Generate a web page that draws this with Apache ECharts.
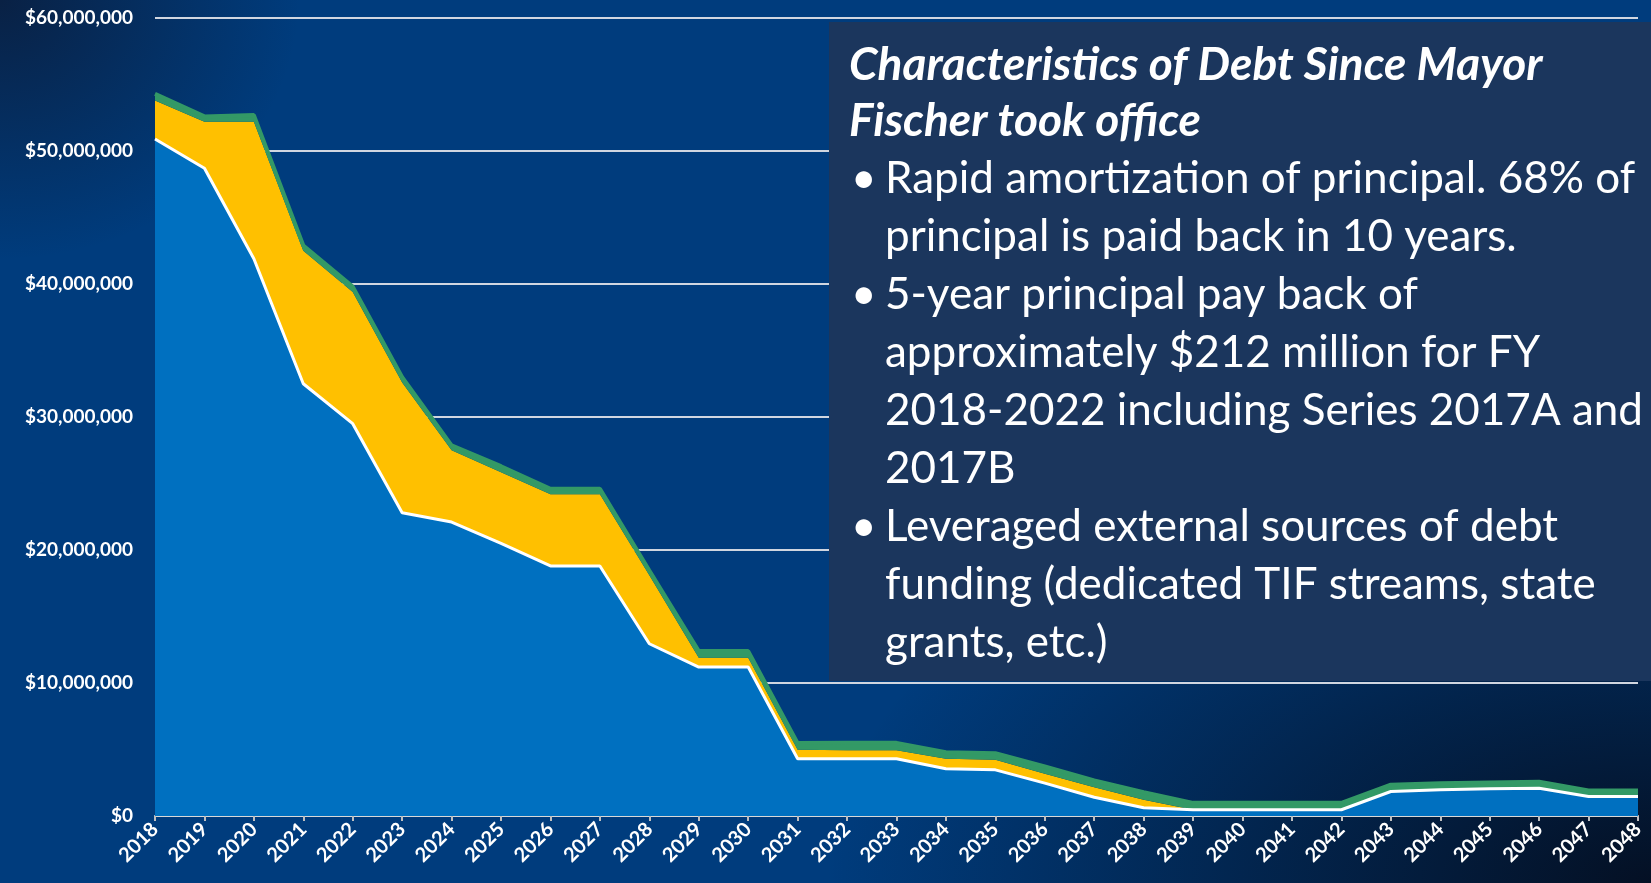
<!DOCTYPE html>
<html>
<head>
<meta charset="utf-8">
<title>Debt Service Schedule</title>
<script src="https://cdn.jsdelivr.net/npm/echarts@6/dist/echarts.min.js"></script>
<style>
  html, body {
    margin: 0;
    padding: 0;
    width: 1651px;
    height: 883px;
    overflow: hidden;
  }
  body {
    background-color: #003c7d;
    background-image:
      radial-gradient(ellipse 1100px 620px at 100% 100%, rgba(4, 16, 36, 1) 0%, rgba(4, 16, 36, 0.55) 35%, rgba(4, 16, 36, 0) 75%),
      radial-gradient(ellipse 300px 260px at 0% 0%, rgba(10, 30, 62, 0.9) 0%, rgba(10, 30, 62, 0) 100%);
  }
  #chart {
    width: 1651px;
    height: 883px;
  }
</style>
</head>
<body>
<div id="chart"></div>
<script>
// fiscal years
const years = [
  "2018", "2019", "2020", "2021", "2022", "2023", "2024", "2025", "2026", "2027",
  "2028", "2029", "2030", "2031", "2032", "2033", "2034", "2035", "2036", "2037",
  "2038", "2039", "2040", "2041", "2042", "2043", "2044", "2045", "2046", "2047", "2048",
];

// values in dollars
const principal = [
  50900000, 48700000, 41900000, 32500000, 29500000, 22800000, 22100000, 20500000, 18800000, 18800000,
  12950000, 11200000, 11200000, 4300000, 4300000, 4300000, 3550000, 3470000, 2470000, 1410000,
  620000, 470000, 470000, 470000, 470000, 1840000, 1970000, 2040000, 2090000, 1470000, 1470000,
];
const interest = [
  2900000, 3500000, 10300000, 10000000, 9900000, 9800000, 5400000, 5350000, 5400000, 5400000,
  5150000, 700000, 700000, 680000, 650000, 650000, 750000, 750000, 700000, 760000,
  600000, 0, 0, 0, 0, 0, 0, 0, 0, 0, 0,
];
const other = [
  500000, 400000, 500000, 400000, 400000, 400000, 360000, 450000, 400000, 400000,
  360000, 500000, 500000, 500000, 550000, 550000, 500000, 500000, 550000, 500000,
  570000, 520000, 520000, 520000, 520000, 510000, 500000, 480000, 480000, 450000, 450000,
];

const yTicks = [0, 10000000, 20000000, 30000000, 40000000, 50000000, 60000000];

const boxTitle = "Characteristics of Debt Since Mayor\nFischer took office";
const bullets = [
  "Rapid amortization of principal. 68% of\nprincipal is paid back in 10 years.",
  "5-year principal pay back of\napproximately $212 million for FY\n2018-2022 including Series 2017A and\n2017B",
  "Leveraged external sources of debt\nfunding (dedicated TIF streams, state\ngrants, etc.)",
];

const fontColor = "#ffffff";
const labelFont = "Lato";

const chart = echarts.init(document.getElementById("chart"), null, { renderer: "canvas" });

// text box on the right side
const lineH = 58;
const graphics = [
  {
    type: "rect",
    z: 100,
    shape: { x: 829, y: 22, width: 822, height: 659 },
    style: { fill: "#1b365d" },
  },
  {
    type: "text",
    z: 101,
    x: 849,
    y: 37,
    style: {
      text: boxTitle,
      fill: fontColor,
      font: "italic bold 46px " + labelFont,
      lineHeight: 56,
    },
  },
];
let textTop = 150;
bullets.forEach((b) => {
  graphics.push({
    type: "text",
    z: 101,
    x: 851,
    y: textTop,
    style: { text: "\u2022", fill: fontColor, font: "44px " + labelFont, lineHeight: lineH },
  });
  graphics.push({
    type: "text",
    z: 101,
    x: 885,
    y: textTop,
    style: { text: b, fill: fontColor, font: "44px " + labelFont, lineHeight: lineH },
  });
  textTop += b.split("\n").length * lineH;
});

chart.setOption({
  backgroundColor: "transparent",
  animation: false,
  grid: {
    left: 155,
    right: 13,
    top: 18,
    bottom: 67,
    containLabel: false,
  },
  xAxis: {
    type: "category",
    boundaryGap: false,
    data: years,
    axisLine: {
      show: true,
      lineStyle: { color: "#d9d9d9", width: 2 },
    },
    axisTick: {
      show: true,
      length: 5,
      lineStyle: { color: "#bfbfbf", width: 2 },
    },
    axisLabel: {
      rotate: 45,
      margin: 10,
      interval: 0,
      color: fontColor,
      fontFamily: labelFont,
      fontWeight: "bold",
      fontSize: 20,
    },
  },
  yAxis: {
    type: "value",
    min: yTicks[0],
    max: yTicks[yTicks.length - 1],
    interval: yTicks[1] - yTicks[0],
    axisLine: { show: false },
    axisTick: { show: false },
    axisLabel: {
      margin: 22,
      color: fontColor,
      fontFamily: labelFont,
      fontWeight: "bold",
      fontSize: 19,
      formatter: (v) => "$" + v.toLocaleString("en-US"),
    },
    splitLine: {
      show: true,
      lineStyle: { color: "#d0d6e0", width: 2 },
    },
  },
  series: [
    {
      name: "Principal",
      type: "line",
      stack: "debt",
      z: 4,
      symbol: "none",
      data: principal,
      lineStyle: { color: "#ffffff", width: 3 },
      areaStyle: { color: "#0070c0", opacity: 1 },
    },
    {
      name: "Interest",
      type: "line",
      stack: "debt",
      z: 2,
      symbol: "none",
      data: interest,
      lineStyle: { width: 0 },
      areaStyle: { color: "#ffc000", opacity: 1 },
    },
    {
      name: "Other",
      type: "line",
      stack: "debt",
      z: 3,
      symbol: "none",
      data: other,
      lineStyle: { color: "#339966", width: 4 },
      areaStyle: { color: "#339966", opacity: 1 },
    },
  ],
  graphic: graphics,
});
</script>
</body>
</html>
